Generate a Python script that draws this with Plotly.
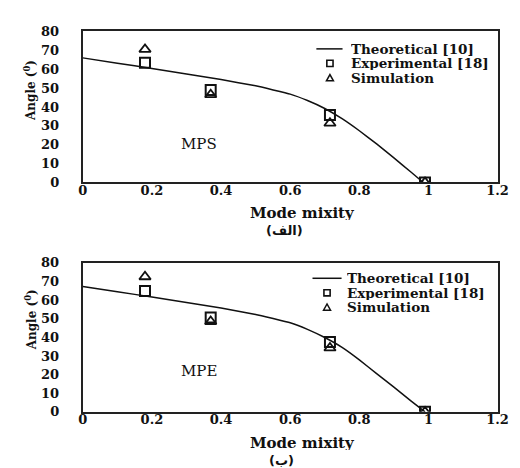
import plotly.graph_objects as go

# ---------------- data ----------------
theory_x_mps = [0, 0.1, 0.2, 0.3, 0.4, 0.5, 0.6, 0.65, 0.7, 0.75, 0.8, 0.85, 0.9, 0.95, 0.985]
mps_theory = [66, 63.2, 60.4, 57.5, 54.5, 51.2, 46.8, 43.4, 39.2, 33.8, 27.4, 20.4, 13.0, 5.4, 0]
theory_x_mpe = [0, 0.1, 0.2, 0.3, 0.4, 0.5, 0.6, 0.65, 0.7, 0.75, 0.8, 0.85, 0.9, 0.95, 0.99]
mpe_theory = [67.3, 64.5, 61.6, 58.7, 55.7, 52.3, 47.8, 44.3, 39.9, 34.6, 27.9, 20.5, 13.3, 5.8, 0]

mode_mixity = [0.18, 0.37, 0.715, 0.99]
mps_experimental = [63.4, 49, 35.8, 0]
mps_simulation = [70.5, 46.5, 31.4, 0]
mpe_experimental = [64.8, 50.6, 37.5, 0]
mpe_simulation = [72.5, 48.5, 34.3, 0]

x_ticks = [0, 0.2, 0.4, 0.6, 0.8, 1, 1.2]
x_tick_text = ["0", "0.2", "0.4", "0.6", "0.8", "1", "1.2"]
y_ticks = [0, 10, 20, 30, 40, 50, 60, 70, 80]

legend_names = ["Theoretical [10]", "Experimental [18]", "Simulation"]
panel_labels = ["MPS", "MPE"]
panel_captions = ["(الف)", "(ب)"]

# ---------------- figure ----------------
W, H = 520, 468
SERIF = "DejaVu Serif"


def fx(px):
    return px / W


def fy(py):
    return (H - py) / H


fig = go.Figure()

panels = [
    ("x", "y", theory_x_mps, mps_theory, mps_experimental, mps_simulation),
    ("x2", "y2", theory_x_mpe, mpe_theory, mpe_experimental, mpe_simulation),
]
for xa, ya, tx, th, ex, si in panels:
    fig.add_trace(go.Scatter(x=tx, y=th, mode="lines", xaxis=xa, yaxis=ya,
                             line=dict(color="#111", width=1.5, shape="spline", smoothing=0.3),
                             showlegend=False))
    fig.add_trace(go.Scatter(x=mode_mixity, y=ex, mode="markers", xaxis=xa, yaxis=ya,
                             marker=dict(symbol="square-open", size=10, color="#111",
                                         line=dict(width=2)), showlegend=False))
    fig.add_trace(go.Scatter(x=mode_mixity, y=si, mode="markers", xaxis=xa, yaxis=ya,
                             marker=dict(symbol="triangle-up-open", size=10, color="#111",
                                         line=dict(width=1.8)), showlegend=False))

xdom = [fx(72), fx(500)]
ydom_top = [fy(173), fy(17)]
ydom_bot = [fy(410), fy(256)]

axis_common = dict(showline=True, mirror=True, linecolor="#222", linewidth=2,
                   showgrid=False, zeroline=False, ticks="",
                   tickfont=dict(family=SERIF, size=13, color="#111", weight="bold"))

fig.update_layout(
    width=W, height=H, autosize=False,
    margin=dict(l=0, r=0, t=0, b=0),
    paper_bgcolor="white", plot_bgcolor="white",
    showlegend=False,
    xaxis=dict(domain=xdom, range=[0, 1.2], tickvals=x_ticks, ticktext=x_tick_text,
               anchor="y", ticklabelstandoff=-5, **axis_common),
    yaxis=dict(domain=ydom_top, range=[0, 80], tickvals=y_ticks, anchor="x",
               ticklabelstandoff=19, **axis_common),
    xaxis2=dict(domain=xdom, range=[0, 1.2], tickvals=x_ticks, ticktext=x_tick_text,
                anchor="y2", ticklabelstandoff=-5, **axis_common),
    yaxis2=dict(domain=ydom_bot, range=[0, 80], tickvals=y_ticks, anchor="x2",
                ticklabelstandoff=19, **axis_common),
)

annotations = []
shapes = []

# axis titles & captions
for (title_y, cap_y, cap_x, cap) in [(204, 222, 280, panel_captions[0]),
                                     (442, 460, 277, panel_captions[1])]:
    annotations.append(dict(x=fx(299), y=fy(title_y), xref="paper", yref="paper",
                            text="Mode mixity", showarrow=False, height=15,
                            xanchor="center", yanchor="middle",
                            font=dict(family=SERIF, size=15, color="#111", weight="bold")))
    annotations.append(dict(x=fx(cap_x), y=fy(cap_y), xref="paper", yref="paper",
                            text=cap, showarrow=False, height=14,
                            xanchor="center", yanchor="middle",
                            font=dict(family="DejaVu Sans", size=13, color="#111", weight="bold")))

for ay in [78, 315]:
    annotations.append(dict(x=fx(18), y=fy(ay), xref="paper", yref="paper",
                            text="Angle (<sup>0</sup>)", showarrow=False, textangle=-90,
                            xanchor="center", yanchor="middle",
                            font=dict(family=SERIF, size=12, color="#111", weight="bold")))

# panel labels
annotations.append(dict(x=0.336, y=20.5, xref="x", yref="y", text=panel_labels[0],
                        showarrow=False, font=dict(family=SERIF, size=15, color="#111")))
annotations.append(dict(x=0.336, y=22, xref="x2", yref="y2", text=panel_labels[1],
                        showarrow=False, font=dict(family=SERIF, size=15, color="#111")))

# manual legends
for (lx0, lx1, sym_x, text_x, y0) in [(313, 340, 327, 347, 35), (309, 339, 324, 343, 272)]:
    ys = [y0, y0 + 15, y0 + 30]
    shapes.append(dict(type="line", xref="paper", yref="paper",
                       x0=fx(lx0), x1=fx(lx1), y0=fy(ys[0]), y1=fy(ys[0]),
                       line=dict(color="#111", width=1.5)))
    s = 3.2
    shapes.append(dict(type="rect", xref="paper", yref="paper",
                       x0=fx(sym_x - s), x1=fx(sym_x + s), y0=fy(ys[1] + s), y1=fy(ys[1] - s),
                       line=dict(color="#111", width=1.6)))
    t = 3.6
    path = "M {} {} L {} {} L {} {} Z".format(
        fx(sym_x - t), fy(ys[2] + 3), fx(sym_x + t), fy(ys[2] + 3), fx(sym_x), fy(ys[2] - 3.5))
    shapes.append(dict(type="path", xref="paper", yref="paper", path=path,
                       line=dict(color="#111", width=1.5)))
    for name, yy in zip(legend_names, ys):
        annotations.append(dict(x=fx(text_x), y=fy(yy), xref="paper", yref="paper",
                                text=name, showarrow=False, xanchor="left", yanchor="middle",
                                height=14,
                                font=dict(family=SERIF, size=13.5, color="#111", weight="bold")))

fig.update_layout(annotations=annotations, shapes=shapes)

fig.write_html("out.html")
